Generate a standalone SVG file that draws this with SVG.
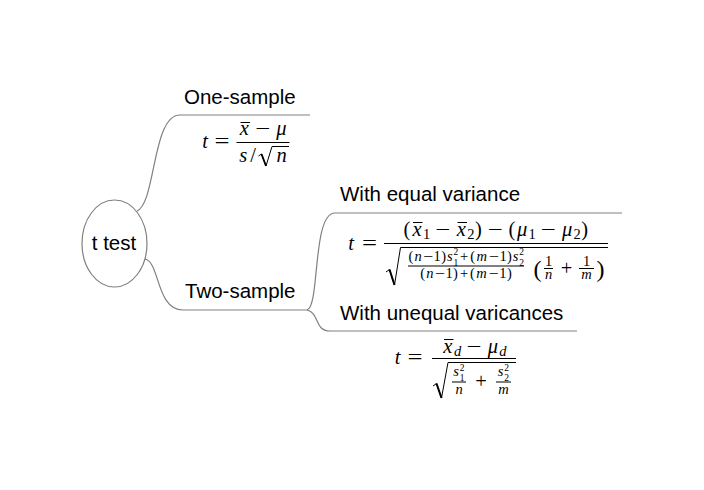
<svg xmlns="http://www.w3.org/2000/svg" width="704" height="490" viewBox="0 0 704 490">
<style>
.lbl{font-family:"Liberation Sans",Arial,sans-serif;font-size:20.5px;fill:#000}
.m{font-size:20.5px;fill:#000;text-anchor:middle}
.i{font-style:italic}
.s{font-size:14.5px}
.ss{font-size:9.5px}
.bp{font-size:24px}
.rule{stroke:#000;stroke-width:1;fill:none}
.rad{stroke:#000;stroke-width:1;fill:none;stroke-linejoin:miter}
.conn{stroke:#808080;stroke-width:1.2;fill:none}
</style>
<rect width="704" height="490" fill="#fff"/>
<g id="connectors">
<path class="conn" d="M137,211 C156,203 152,115 180,115 L310,115"/>
<path class="conn" d="M145,259 C160,262 156,310 183,310 L307,310"/>
<path class="conn" d="M307,310 C320,307 312,213 335,213 L622,213"/>
<path class="conn" d="M307,310 C320,313 314,331 330,331 L577,331"/>
</g>
<g id="root">
<ellipse cx="114.5" cy="243.5" rx="32.5" ry="43.5" fill="#fff" stroke="#808080" stroke-width="1.2"/>
<text class="lbl" x="114" y="250" text-anchor="middle">t test</text>
</g>
<g id="one-sample">
<text class="lbl" x="184" y="104">One-sample</text>
<g font-family="Liberation Serif">
<text class="m i" x="205" y="148">t</text>
<text class="m" x="222" y="148" textLength="15" lengthAdjust="spacingAndGlyphs">=</text>
<text class="m i" x="244.4" y="135">x</text>
<line class="rule" x1="240.5" y1="122.5" x2="250" y2="122.5"/>
<text class="m" x="262.7" y="135" textLength="15" lengthAdjust="spacingAndGlyphs">−</text>
<text class="m i" x="281.4" y="135">μ</text>
<line class="rule" x1="236.5" y1="142.5" x2="289.5" y2="142.5"/>
<text class="m i" x="243.3" y="162">s</text>
<text class="m" x="253.2" y="162">/</text>
<path class="rad" d="M258.5,156 L261.5,154 L266,166 L272,146.5 H289"/>
<path d="M261.5,154 L266,166" stroke="#000" stroke-width="1.8"/>
<text class="m i" x="281.7" y="162">n</text>
</g>
</g>
<g id="two-sample">
<text class="lbl" x="185" y="298">Two-sample</text>
</g>
<g id="equal-variance">
<text class="lbl" x="340" y="201">With equal variance</text>
<g font-family="Liberation Serif">
<text class="m i" x="351" y="250">t</text>
<text class="m" x="369.5" y="250" textLength="15" lengthAdjust="spacingAndGlyphs">=</text>
<line class="rule" x1="384" y1="243.5" x2="608" y2="243.5"/>
<text class="m" x="407" y="235.5">(</text>
<text class="m i" x="417" y="235.5">x</text>
<line class="rule" x1="413" y1="222.5" x2="422.5" y2="222.5"/>
<text class="m s" x="426.5" y="238.5">1</text>
<text class="m" x="442.7" y="235.5" textLength="15" lengthAdjust="spacingAndGlyphs">−</text>
<text class="m i" x="461.3" y="235.5">x</text>
<line class="rule" x1="457.5" y1="222.5" x2="467" y2="222.5"/>
<text class="m s" x="470.9" y="238.5">2</text>
<text class="m" x="478.5" y="235.5">)</text>
<text class="m" x="495.2" y="235.5" textLength="15" lengthAdjust="spacingAndGlyphs">−</text>
<text class="m" x="511.9" y="235.5">(</text>
<text class="m i" x="522.2" y="235.5">μ</text>
<text class="m s" x="532" y="238.5">1</text>
<text class="m" x="548.3" y="235.5" textLength="15" lengthAdjust="spacingAndGlyphs">−</text>
<text class="m i" x="567.2" y="235.5">μ</text>
<text class="m s" x="577" y="238.5">2</text>
<text class="m" x="584.6" y="235.5">)</text>
<path class="rad" d="M386,272 L389.5,269.5 L394.5,285 L400.5,247.5 H608"/>
<path d="M389.5,269.5 L394.5,285" stroke="#000" stroke-width="2"/>
<text class="m s" x="410.8" y="261">(</text>
<text class="m s i" x="418" y="261">n</text>
<text class="m s" x="428" y="261" textLength="10" lengthAdjust="spacingAndGlyphs">−</text>
<text class="m s" x="437.2" y="261">1</text>
<text class="m s" x="443.7" y="261">)</text>
<text class="m s i" x="449.9" y="261">s</text>
<text class="m ss" x="455.9" y="255">2</text>
<text class="m ss" x="455.9" y="265.5">1</text>
<text class="m s" x="464.1" y="261">+</text>
<text class="m s" x="472.6" y="261">(</text>
<text class="m s i" x="481.7" y="261">m</text>
<text class="m s" x="493.7" y="261" textLength="10" lengthAdjust="spacingAndGlyphs">−</text>
<text class="m s" x="503" y="261">1</text>
<text class="m s" x="509.5" y="261">)</text>
<text class="m s i" x="515.7" y="261">s</text>
<text class="m ss" x="521.7" y="255">2</text>
<text class="m ss" x="521.7" y="265.5">2</text>
<line class="rule" x1="408" y1="266" x2="524" y2="266"/>
<text class="m s" x="422.6" y="278">(</text>
<text class="m s i" x="429.8" y="278">n</text>
<text class="m s" x="439.8" y="278" textLength="10" lengthAdjust="spacingAndGlyphs">−</text>
<text class="m s" x="449" y="278">1</text>
<text class="m s" x="455.5" y="278">)</text>
<text class="m s" x="464" y="278">+</text>
<text class="m s" x="472.4" y="278">(</text>
<text class="m s i" x="481.5" y="278">m</text>
<text class="m s" x="493.5" y="278" textLength="10" lengthAdjust="spacingAndGlyphs">−</text>
<text class="m s" x="502.8" y="278">1</text>
<text class="m s" x="509.3" y="278">)</text>
<text class="m bp" x="537.5" y="277">(</text>
<text class="m s" x="548.5" y="266">1</text>
<line class="rule" x1="544" y1="268.5" x2="553" y2="268.5"/>
<text class="m s i" x="548.5" y="278.5">n</text>
<text class="m" x="566.6" y="274.5">+</text>
<text class="m s" x="586.5" y="266">1</text>
<line class="rule" x1="579" y1="268.5" x2="594" y2="268.5"/>
<text class="m s i" x="586.5" y="278.5">m</text>
<text class="m bp" x="600.5" y="277">)</text>
</g>
</g>
<g id="unequal-variances">
<text class="lbl" x="340" y="320">With unequal varicances</text>
<g font-family="Liberation Serif">
<text class="m i" x="397.5" y="364">t</text>
<text class="m" x="415" y="364" textLength="15" lengthAdjust="spacingAndGlyphs">=</text>
<line class="rule" x1="432" y1="358.5" x2="516" y2="358.5"/>
<text class="m i" x="447.9" y="352.5">x</text>
<line class="rule" x1="444" y1="339.5" x2="453.5" y2="339.5"/>
<text class="m s i" x="457.5" y="355.5">d</text>
<text class="m" x="474" y="352.5" textLength="15" lengthAdjust="spacingAndGlyphs">−</text>
<text class="m i" x="492.8" y="352.5">μ</text>
<text class="m s i" x="502.8" y="355.5">d</text>
<path class="rad" d="M433,386 L436.5,383.5 L441.5,398 L448,362.5 H516"/>
<path d="M436.5,383.5 L441.5,398" stroke="#000" stroke-width="2"/>
<text class="m s i" x="456.1" y="376">s</text>
<text class="m ss" x="462.1" y="370.5">2</text>
<text class="m ss" x="462.1" y="380.5">1</text>
<line class="rule" x1="452" y1="382" x2="466" y2="382"/>
<text class="m s i" x="459" y="393.5">n</text>
<text class="m" x="481" y="388">+</text>
<text class="m s i" x="500.5" y="376">s</text>
<text class="m ss" x="506.5" y="370.5">2</text>
<text class="m ss" x="506.5" y="380.5">2</text>
<line class="rule" x1="496" y1="382" x2="511" y2="382"/>
<text class="m s i" x="503.5" y="393.5">m</text>
</g>
</g>
</svg>
